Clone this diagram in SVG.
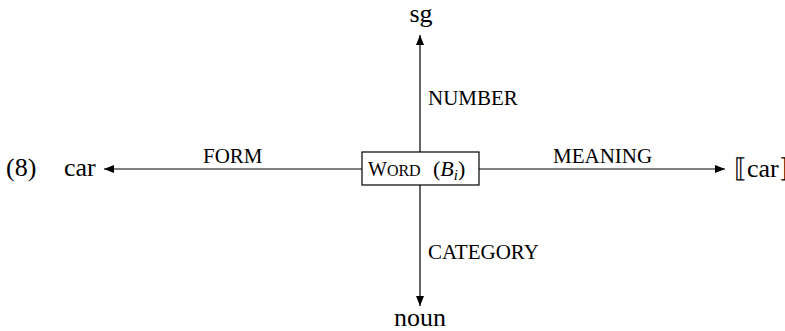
<svg xmlns="http://www.w3.org/2000/svg" width="785" height="331" viewBox="0 0 785 331">
<style>
text{font-family:"Liberation Serif","DejaVu Serif",serif;fill:#000}
.big{font-size:26px}
.lab{font-size:21px}
.edge{stroke:#000;stroke-width:1.2;fill:none}
</style>
<defs>
<marker id="ah" viewBox="0 0 10 8" refX="10" refY="4" markerWidth="10" markerHeight="8" markerUnits="userSpaceOnUse" orient="auto">
<path d="M0,0 L10,4 L0,8 z" fill="#000"/>
</marker>
</defs>
<rect width="785" height="331" fill="#fff"/>
<text class="big" x="6" y="176">(8)</text>
<g id="connectors">
<line class="edge" x1="362" y1="169" x2="104" y2="169" marker-end="url(#ah)"/>
<line class="edge" x1="479" y1="169" x2="725" y2="169" marker-end="url(#ah)"/>
<line class="edge" x1="420" y1="152" x2="420" y2="35" marker-end="url(#ah)"/>
<line class="edge" x1="420" y1="185" x2="420" y2="306" marker-end="url(#ah)"/>
<text class="lab" x="203" y="163">FORM</text>
<text class="lab" x="553" y="163">MEANING</text>
<text class="lab" x="428" y="105">NUMBER</text>
<text class="lab" x="428" y="259">CATEGORY</text>
</g>
<g id="word">
<rect x="362" y="152" width="117" height="33" fill="#fff" stroke="#000" stroke-width="1.2"/>
<text x="368" y="176"><tspan font-size="20">W</tspan><tspan font-size="16">ORD</tspan></text>
<text x="433" y="176" font-size="22">(<tspan font-style="italic">B</tspan><tspan font-style="italic" font-size="15" dy="4">i</tspan><tspan dy="-4">)</tspan></text>
</g>
<g id="car-form"><text class="big" x="64" y="176">car</text></g>
<g id="car-meaning"><text class="big" x="734" y="177" font-size="25">⟦car⟧</text></g>
<g id="sg"><text class="big" x="421" y="22" text-anchor="middle">sg</text></g>
<g id="noun"><text class="big" x="420" y="326" text-anchor="middle">noun</text></g>
</svg>
